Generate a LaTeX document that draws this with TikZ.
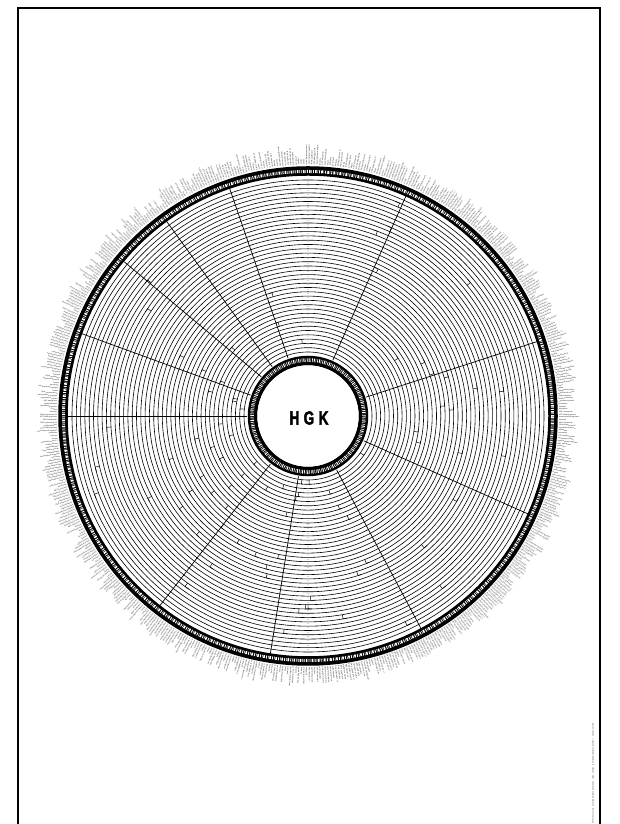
\documentclass[tikz,border=0pt]{standalone}
\usepackage{fontspec}
\setmainfont{Liberation Sans}
\newfontfamily\heavyfont{Liberation Sans}[BoldFeatures={FakeBold=2.5}]
\newcommand\genelabel[1]{\ifcase#1\or hypothetical protein\or ABC transporter\or kinase\or DNA polymerase III\or ribosomal protein L7\or transcriptional regulator\or membrane protein\or tRNA synthetase\or oxidoreductase\or permease\or ATP-binding protein\or helicase\fi}
\begin{document}
\begin{tikzpicture}[
  lbl/.style={inner sep=0pt, font=\fontsize{1.9}{2}\selectfont, text=black!85},
  tick/.style={inner sep=0pt, font=\fontsize{1.4}{1.6}\selectfont, text=black!60},
  ringline/.style={line width=0.6pt},
  spoke/.style={line width=0.7pt},
]
\useasboundingbox (0,0) rectangle (619pt,824pt);
\pgfmathsetseed{11}
% frame
\draw[line width=2.6pt] (18pt,-5pt) -- (18pt,816pt) -- (600pt,816pt) -- (600pt,-5pt);
\coordinate (c) at (308pt,408pt);
\begin{scope}[shift={(c)}]
% concentric rings
\foreach \k in {0,...,40}
  \draw[ringline] (0,0) circle[radius=64pt+4.3pt*\k];
% small marks between rings
\foreach \j in {1,...,80}{
  \pgfmathsetmacro\ta{random(0,3599)/10}
  \pgfmathsetmacro\ra{64+4.3*random(0,39)}
  \draw[line width=0.5pt] (\ta:\ra pt) -- (\ta:\ra pt+4.3pt) arc[start angle=\ta, delta angle=1.2, radius=\ra pt+4.3pt];
}
% spokes
\foreach \a in {66,18,-24,-62,-99,-128,180,160,140,126,109}
  \draw[spoke] (\a:61pt) -- (\a:242pt);
% ring numbers, top and bottom
\foreach \k in {0,...,39}{
  \node[tick, fill=white] (nt\k) at (90:66.2pt+4.3pt*\k) {\k};
  \node[tick, fill=white] (nb\k) at (-90:66.2pt+4.3pt*\k) {\k};
}
% outer band
\draw[line width=9.5pt] (0,0) circle[radius=245pt];
\draw[white, line width=3pt, dash pattern=on 0.9pt off 1.1pt on 0.5pt off 0.8pt on 1.6pt off 1.2pt] (0,0) circle[radius=244.5pt];
% inner band
\draw[line width=9.5pt] (0,0) circle[radius=55.5pt];
\draw[white, line width=3.6pt, dash pattern=on 0.6pt off 1.2pt on 0.4pt off 0.9pt on 1pt off 1.1pt] (0,0) circle[radius=56pt];
\fill[white] (0,0) circle[radius=50.5pt];
\node[font=\fontsize{19}{19}\selectfont\heavyfont\bfseries, xscale=0.72] (hgk) at (1pt,-2pt) {H\hspace{6pt}G\hspace{6pt}K};
% outer labels
\foreach \i in {0,...,599}{
  \pgfmathsetmacro\ang{\i*0.6+0.3}
  \pgfmathtruncatemacro\pick{random(1,12)}
  \pgfmathtruncatemacro\flip{cos(\ang)<0}
  \ifnum\flip=1
    \node[lbl, anchor=east, rotate=\ang+180] (g\i) at (\ang:251pt) {\genelabel{\pick}};
  \else
    \node[lbl, anchor=west, rotate=\ang] (g\i) at (\ang:251pt) {\genelabel{\pick}};
  \fi
}
\end{scope}
% side caption
\node[lbl, rotate=90, anchor=west] (cap) at (593pt,0pt) {HGK circular map \quad outer labels: gene annotation \quad rings: contigs \quad inner band: sequence positions \quad spokes: sectors};
\end{tikzpicture}
\end{document}
